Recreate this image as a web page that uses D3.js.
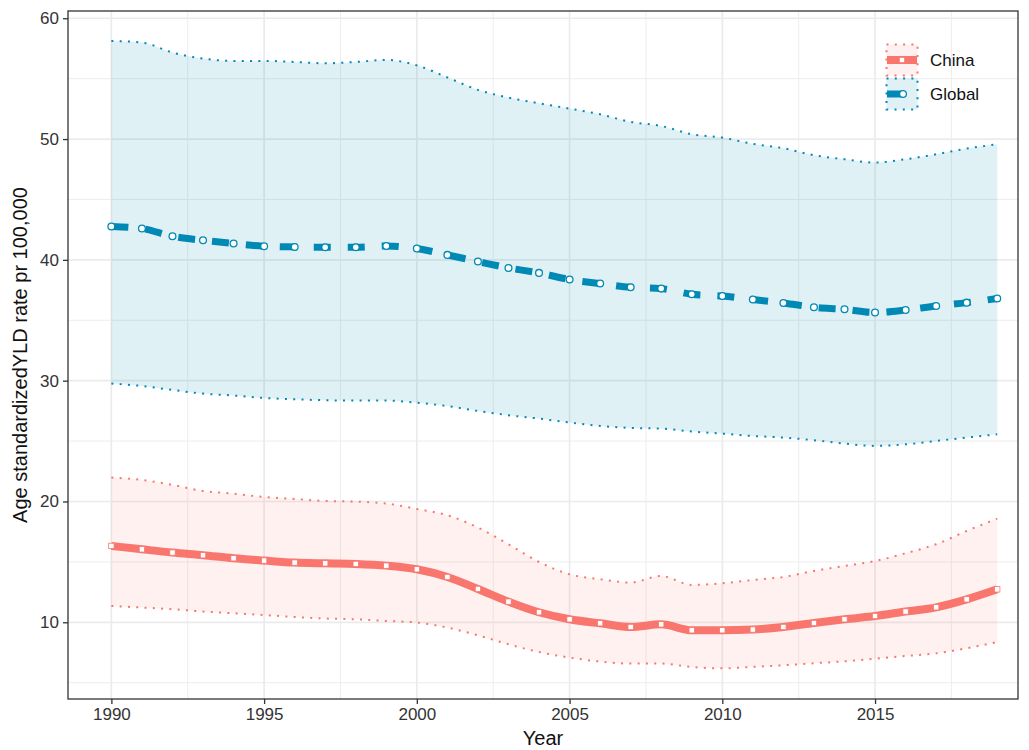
<!DOCTYPE html>
<html>
<head>
<meta charset="utf-8">
<script src="https://cdn.jsdelivr.net/npm/d3@7"></script>
<style>
  html, body { margin: 0; padding: 0; background: #fff; }
  svg { display: block; font-family: "Liberation Sans", Arial, sans-serif; }
</style>
</head>
<body>
<svg id="chart" width="1029" height="750"></svg>
<script>
const years = [1990,1991,1992,1993,1994,1995,1996,1997,1998,1999,2000,2001,2002,2003,2004,2005,2006,2007,2008,2009,2010,2011,2012,2013,2014,2015,2016,2017,2018,2019];
const chinaVal   = [16.32,16.04,15.77,15.55,15.30,15.11,14.94,14.88,14.83,14.69,14.39,13.75,12.76,11.71,10.83,10.25,9.92,9.61,9.83,9.34,9.34,9.40,9.61,9.94,10.25,10.52,10.89,11.24,11.90,12.73];
const chinaUpper = [21.98,21.78,21.37,20.87,20.65,20.37,20.21,20.04,19.99,19.83,19.38,18.86,17.84,16.46,14.99,13.97,13.56,13.29,13.83,13.09,13.23,13.50,13.75,14.25,14.66,15.07,15.71,16.46,17.56,18.58];
const chinaLower = [11.35,11.22,11.08,10.89,10.75,10.60,10.44,10.31,10.25,10.11,9.98,9.56,8.92,8.18,7.54,7.08,6.75,6.58,6.58,6.30,6.19,6.31,6.44,6.61,6.77,6.99,7.21,7.43,7.85,8.37];
const globalVal   = [42.76,42.59,41.95,41.62,41.35,41.13,41.07,41.04,41.04,41.15,40.94,40.41,39.86,39.33,38.92,38.37,38.04,37.73,37.62,37.15,37.01,36.72,36.43,36.08,35.91,35.64,35.85,36.18,36.46,36.80];
const globalUpper = [58.12,57.99,57.16,56.66,56.47,56.47,56.38,56.27,56.38,56.55,56.10,55.10,54.07,53.43,52.96,52.52,52.05,51.42,51.08,50.40,50.12,49.60,49.24,48.66,48.33,48.05,48.33,48.74,49.21,49.57];
const globalLower = [29.76,29.56,29.23,28.93,28.77,28.57,28.46,28.38,28.35,28.35,28.18,27.90,27.49,27.14,26.86,26.53,26.25,26.09,26.03,25.79,25.62,25.42,25.29,25.07,24.79,24.60,24.73,25.01,25.29,25.56];
const xTicks = [1990,1995,2000,2005,2010,2015];
const yTicks = [10,20,30,40,50,60];
const xMinor = [1992.5,1997.5,2002.5,2007.5,2012.5,2017.5];
const yMinor = [5,15,25,35,45,55];
const seriesNames = ["China","Global"];
const seriesColors = ["#F8766D","#0089B5"];

const P = {l: 68, r: 1018, t: 11, b: 699};
const svg = d3.select("#chart");
const x = d3.scaleLinear().domain([1988.58, 2019.68]).range([P.l, P.r]);
const y = d3.scaleLinear().domain([3.65, 60.6]).range([P.b, P.t]);

// grid
const g = svg.append("g");
g.selectAll(".ymin").data(yMinor).join("line")
  .attr("x1", P.l).attr("x2", P.r).attr("y1", d => y(d)).attr("y2", d => y(d))
  .attr("stroke", "#EBEBEB").attr("stroke-width", 0.9);
g.selectAll(".xmin").data(xMinor).join("line")
  .attr("y1", P.t).attr("y2", P.b).attr("x1", d => x(d)).attr("x2", d => x(d))
  .attr("stroke", "#EBEBEB").attr("stroke-width", 0.9);
g.selectAll(".ymaj").data(yTicks).join("line")
  .attr("x1", P.l).attr("x2", P.r).attr("y1", d => y(d)).attr("y2", d => y(d))
  .attr("stroke", "#EBEBEB").attr("stroke-width", 1.7);
g.selectAll(".xmaj").data(xTicks).join("line")
  .attr("y1", P.t).attr("y2", P.b).attr("x1", d => x(d)).attr("x2", d => x(d))
  .attr("stroke", "#EBEBEB").attr("stroke-width", 1.7);

const series = [
  {name: seriesNames[0], color: seriesColors[0], val: chinaVal, lo: chinaLower, hi: chinaUpper, alpha: 0.1},
  {name: seriesNames[1], color: seriesColors[1], val: globalVal, lo: globalLower, hi: globalUpper, alpha: 0.12}
];
const curve = d3.curveMonotoneX;
const area = d3.area().x((d,i) => x(years[i])).curve(curve);
const line = d3.line().x((d,i) => x(years[i])).curve(curve);

// ribbons
series.forEach(s => {
  svg.append("path")
    .attr("d", area.y0((d,i) => y(s.lo[i])).y1((d,i) => y(s.hi[i]))(s.val))
    .attr("fill", s.color).attr("fill-opacity", s.alpha);
  [s.lo, s.hi].forEach(arr => {
    svg.append("path")
      .attr("d", line.y(d => y(d))(arr))
      .attr("fill", "none").attr("stroke", s.color).attr("stroke-width", 2)
      .attr("stroke-dasharray", "2,6.3");
  });
});

// China line + squares
svg.append("path")
  .attr("d", line.y(d => y(d))(chinaVal))
  .attr("fill", "none").attr("stroke", seriesColors[0]).attr("stroke-width", 8);
svg.selectAll(".csq").data(chinaVal).join("rect")
  .attr("x", (d,i) => x(years[i]) - 2.7).attr("y", d => y(d) - 2.7)
  .attr("width", 5.4).attr("height", 5.4)
  .attr("fill", "#fff").attr("stroke", seriesColors[0]).attr("stroke-width", 0.8);

// Global line + circles
svg.append("path")
  .attr("d", line.y(d => y(d))(globalVal))
  .attr("fill", "none").attr("stroke", seriesColors[1]).attr("stroke-width", 7)
  .attr("stroke-dasharray", "17,17");
svg.selectAll(".gc").data(globalVal).join("circle")
  .attr("cx", (d,i) => x(years[i])).attr("cy", d => y(d)).attr("r", 3.4)
  .attr("fill", "#fff").attr("stroke", seriesColors[1]).attr("stroke-width", 1.3);

// panel border
svg.append("rect").attr("x", P.l).attr("y", P.t).attr("width", P.r - P.l).attr("height", P.b - P.t)
  .attr("fill", "none").attr("stroke", "#333").attr("stroke-width", 1.3);

// axes
const xAxis = svg.append("g").attr("transform", `translate(0,${P.b})`)
  .call(d3.axisBottom(x).tickValues(xTicks).tickFormat(d3.format("d")).tickSize(5).tickPadding(4));
const yAxis = svg.append("g").attr("transform", `translate(${P.l},0)`)
  .call(d3.axisLeft(y).tickValues(yTicks).tickSize(5).tickPadding(4));
[xAxis, yAxis].forEach(a => {
  a.select(".domain").remove();
  a.selectAll(".tick line").attr("stroke", "#333").attr("stroke-width", 1.3);
  a.selectAll(".tick text").attr("fill", "#333").attr("font-size", 17)
    .attr("font-family", "Liberation Sans, Arial, sans-serif");
});

svg.append("text").attr("x", (P.l + P.r) / 2).attr("y", 745)
  .attr("text-anchor", "middle").attr("font-size", 20).attr("fill", "#111").text("Year");
svg.append("text").attr("transform", `translate(27,${(P.t + P.b) / 2}) rotate(-90)`)
  .attr("text-anchor", "middle").attr("font-size", 20).attr("fill", "#111")
  .text("Age standardizedYLD rate pr 100,000");

// legend
const lg = svg.append("g");
const keyY = [44.5, 78.5];
series.forEach((s, k) => {
  const ky = keyY[k];
  lg.append("rect").attr("x", 886.5).attr("y", ky).attr("width", 31).attr("height", 31)
    .attr("fill", s.color).attr("fill-opacity", s.alpha);
  lg.append("rect").attr("x", 886.5).attr("y", ky).attr("width", 31).attr("height", 31)
    .attr("fill", "none").attr("stroke", s.color).attr("stroke-width", 2).attr("stroke-dasharray", "2,6.3");
  const cy = ky + 15.5;
  lg.append("line").attr("x1", 887).attr("x2", k === 0 ? 917 : 904).attr("y1", cy).attr("y2", cy)
    .attr("stroke", s.color).attr("stroke-width", k === 0 ? 8 : 7);
  if (k === 0) {
    lg.append("rect").attr("x", 902 - 2.7).attr("y", cy - 2.7).attr("width", 5.4).attr("height", 5.4)
      .attr("fill", "#fff").attr("stroke", s.color).attr("stroke-width", 0.8);
  } else {
    lg.append("circle").attr("cx", 903).attr("cy", cy).attr("r", 3.4)
      .attr("fill", "#fff").attr("stroke", s.color).attr("stroke-width", 1.3);
  }
  lg.append("text").attr("x", 930).attr("y", cy).attr("dy", "0.35em")
    .attr("font-size", 17).attr("fill", "#111").text(s.name);
});
</script>
</body>
</html>
